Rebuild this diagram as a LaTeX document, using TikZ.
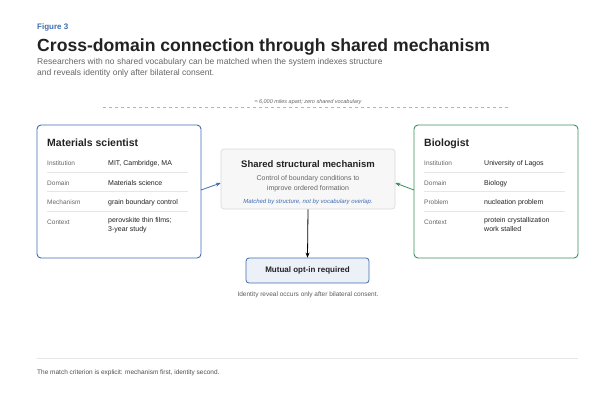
\documentclass[tikz,border=0pt]{standalone}
\usepackage{fontspec}
\setmainfont{Liberation Sans}
\usetikzlibrary{arrows.meta}
\definecolor{bl}{HTML}{3F6DB3}
\definecolor{gr}{HTML}{3F8F5F}
\definecolor{tx}{HTML}{222222}
\definecolor{mu}{HTML}{666666}
\definecolor{sep}{HTML}{E6E6E6}
\tikzset{
 card/.style={draw=#1,line width=0.9pt,rounded corners=4pt},
 lab/.style={anchor=base west,font=\fontsize{6.5}{8}\selectfont,text=mu,inner sep=0},
 val/.style={anchor=base west,font=\fontsize{7}{9}\selectfont,text=tx,inner sep=0,align=left},
 ttl/.style={anchor=base west,font=\fontsize{10.5}{12}\selectfont\bfseries,text=tx,inner sep=0},
 sm/.style={font=\fontsize{6.5}{8}\selectfont,text=mu,inner sep=0},
 arr/.style={-{Stealth[length=5pt,width=4pt]},line width=0.8pt}
}
\begin{document}
\begin{tikzpicture}[x=1pt,y=-1pt]
\useasboundingbox[fill=white] (0,0) rectangle (615,400);
\node[anchor=base west,inner sep=0,text=bl,font=\fontsize{8}{9}\selectfont\bfseries] (fig) at (37,29) {Figure 3};
\node[anchor=base west,inner sep=0,text=tx,font=\fontsize{17.6}{20}\selectfont\bfseries] (title) at (37,51) {Cross-domain connection through shared mechanism};
\node[anchor=north west,inner sep=0,text=mu,align=left,font=\fontsize{8.5}{11.5}\selectfont] (sub) at (37,58) {Researchers with no shared vocabulary can be matched when the system indexes structure\\and reveals identity only after bilateral consent.};
\coordinate (d1) at (103,107); \coordinate (d2) at (510,107);
\draw[sep!50!gray,dashed,line width=0.5pt] (d1) -- (d2);
\node[sm,font=\fontsize{5.5}{7}\selectfont\itshape] (dist) at (308,102) {≈ 6,000 miles apart; zero shared vocabulary};
% left card
\draw[card=bl] (37,125) rectangle (201,258);
\coordinate (L) at (201,190);
\node[ttl] (lt) at (47,146) {Materials scientist};
\foreach \y in {172,191,211}{\draw[sep,line width=0.5pt] (47,\y) -- (188,\y);}
\node[lab] (l1) at (47,165) {Institution}; \node[val] (v1) at (108,165) {MIT, Cambridge, MA};
\node[lab] (l2) at (47,185) {Domain}; \node[val] (v2) at (108,185) {Materials science};
\node[lab] (l3) at (47,204) {Mechanism}; \node[val] (v3) at (108,204) {grain boundary control};
\node[lab] (l4) at (47,224) {Context}; \node[val,anchor=north west] (v4) at (108,217.5) {perovskite thin films;\\3-year study};
% right card
\draw[card=gr] (414,125) rectangle (578,258);
\coordinate (R) at (414,190);
\node[ttl] (rt) at (424,146) {Biologist};
\foreach \y in {172,191,211}{\draw[sep,line width=0.5pt] (424,\y) -- (565,\y);}
\node[lab] (r1) at (424,165) {Institution}; \node[val] (w1) at (484,165) {University of Lagos};
\node[lab] (r2) at (424,185) {Domain}; \node[val] (w2) at (484,185) {Biology};
\node[lab] (r3) at (424,204) {Problem}; \node[val] (w3) at (484,204) {nucleation problem};
\node[lab] (r4) at (424,224) {Context}; \node[val,anchor=north west] (w4) at (484,217.5) {protein crystallization\\work stalled};
% center
\node[draw=black!15,fill=black!3,rounded corners=3pt,line width=0.6pt,minimum width=174pt,minimum height=60pt] (mech) at (308,179) {};
\node[inner sep=0,text=tx,font=\fontsize{9.5}{11}\selectfont\bfseries] (mt) at (308,164) {Shared structural mechanism};
\node[sm,align=center,font=\fontsize{7}{10}\selectfont] (md) at (308,184) {Control of boundary conditions to\\improve ordered formation};
\node[sm,text=bl,font=\fontsize{6}{7}\selectfont\itshape] (mi) at (308,202) {Matched by structure, not by vocabulary overlap.};
\draw[arr,bl] (L) -- (mech.west |- 0,183);
\draw[arr,gr] (R) -- (mech.east |- 0,183);
% opt-in
\node[draw=bl,fill=bl!10,rounded corners=3pt,line width=0.8pt,minimum width=123pt,minimum height=25pt,text=tx,font=\fontsize{8}{9}\selectfont\bfseries] (opt) at (307.5,270.5) {Mutual opt-in required};
\draw[arr,black] (mech.south) -- (opt.north);
\node[sm,text=mu!90!black] (cons) at (308,295) {Identity reveal occurs only after bilateral consent.};
\coordinate (f1) at (37,358); \coordinate (f2) at (578,358);
\draw[sep,line width=0.6pt] (f1) -- (f2);
\node[lab,text=tx!80] (foot) at (37,374) {The match criterion is explicit: mechanism first, identity second.};
\end{tikzpicture}
\end{document}
